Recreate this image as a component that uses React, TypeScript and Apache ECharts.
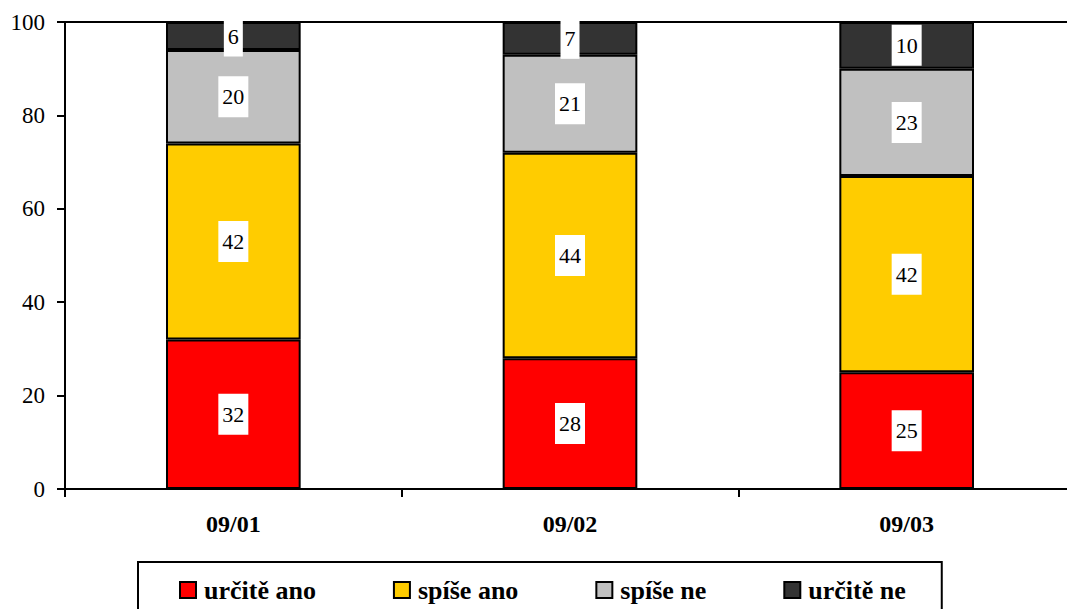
import React, { useEffect, useRef } from "react";
import * as echarts from "echarts";

const categories = ["09/01", "09/02", "09/03"];
const seriesNames = ["určitě ano", "spíše ano", "spíše ne", "určitě ne"];
const urciteAno = [32, 28, 25];
const spiseAno = [42, 44, 42];
const spiseNe = [20, 21, 23];
const urciteNe = [6, 7, 10];
const seriesValues = [urciteAno, spiseAno, spiseNe, urciteNe];
const seriesColors = ["#FF0000", "#FFCC00", "#C0C0C0", "#333333"];
const yTicks = { min: 0, max: 100, interval: 20 };

const FONT = "Liberation Serif";

export default function App() {
  const ref = useRef<HTMLDivElement>(null);
  useEffect(() => {
    if (!ref.current) return;
    const chart = echarts.init(ref.current, null, { renderer: "svg" });
    chart.setOption({
      animation: false,
      backgroundColor: "#ffffff",
      grid: {
        left: 65,
        width: 1010,
        top: 22,
        bottom: 120,
        containLabel: false,
        outerBoundsMode: "none",
      },
      legend: {
        left: 138,
        top: 562,
        padding: [15, 36, 20, 41],
        borderColor: "#000",
        borderWidth: 2,
        itemWidth: 16,
        itemHeight: 16,
        itemGap: 77,
        icon: "rect",
        textStyle: {
          fontFamily: FONT,
          fontSize: 26,
          fontWeight: "bold",
          color: "#000",
          lineHeight: 16,
          padding: [0, 0, 0, 3],
        },
        data: seriesNames,
      },
      xAxis: [
        {
          type: "category",
          data: categories,
          axisLine: { lineStyle: { color: "#000", width: 2 } },
          axisTick: { show: true, length: 8, lineStyle: { color: "#000", width: 2 } },
          axisLabel: {
            fontFamily: FONT,
            fontSize: 24,
            fontWeight: "bold",
            color: "#000",
            margin: 23,
          },
        },
        {
          type: "category",
          position: "top",
          data: categories,
          axisLine: { show: true, lineStyle: { color: "#000", width: 2 } },
          axisTick: { show: false },
          axisLabel: { show: false },
        },
      ],
      yAxis: {
        type: "value",
        min: yTicks.min,
        max: yTicks.max,
        interval: yTicks.interval,
        splitLine: { show: false },
        axisLine: { show: true, lineStyle: { color: "#000", width: 2 } },
        axisTick: { show: true, length: 8, lineStyle: { color: "#000", width: 2 } },
        axisLabel: {
          fontFamily: FONT,
          fontSize: 23,
          color: "#000",
          margin: 20,
        },
      },
      series: seriesNames.map((name, i) => ({
        name,
        type: "bar",
        stack: "total",
        barWidth: "40%",
        data: seriesValues[i],
        itemStyle: { color: seriesColors[i], borderColor: "#000", borderWidth: 2 },
        label: {
          show: true,
          position: "inside",
          fontFamily: FONT,
          fontSize: 22,
          color: "#000",
          backgroundColor: "#fff",
          lineHeight: 22,
          padding: [10, 4, 9, 4],
        },
        z: 2,
      })),
    });
    return () => chart.dispose();
  }, []);
  return (
    <div
      ref={ref}
      style={{ position: "fixed", left: 0, top: 0, width: 1067, height: 609 }}
    />
  );
}
